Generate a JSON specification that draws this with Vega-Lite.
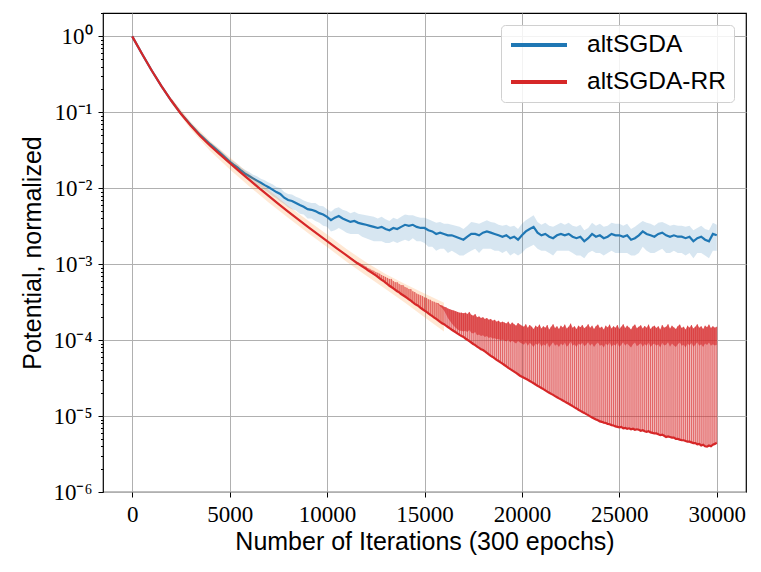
{
  "$schema": "https://vega.github.io/schema/vega-lite/v6.json",
  "width": 643,
  "height": 479,
  "autosize": "none",
  "padding": {"left": 103, "top": 13, "right": 15, "bottom": 80},
  "background": "white",
  "config": {
    "view": {"stroke": "black", "strokeWidth": 1.2},
    "axis": {
      "domain": false,
      "gridColor": "#b0b0b0",
      "gridWidth": 1,
      "tickColor": "black",
      "tickWidth": 1,
      "labelFont": "Liberation Serif",
      "labelFontSize": 23,
      "labelColor": "black",
      "titleFont": "Liberation Sans",
      "titleFontSize": 25,
      "titleFontWeight": "normal",
      "titleColor": "black"
    },
    "legend": {
      "orient": "top-right",
      "offset": 12,
      "symbolType": "stroke",
      "symbolStrokeWidth": 4,
      "symbolSize": 3136,
      "labelFont": "Liberation Sans",
      "labelFontSize": 24.5,
      "labelColor": "black",
      "labelOffset": 18,
      "fillColor": "rgba(255,255,255,0.85)",
      "strokeColor": "#d0d0d0",
      "cornerRadius": 4,
      "padding": 8,
      "rowPadding": 12,
      "clipHeight": 24
    }
  },
  "datasets": {
    "blue": [
      {"it": 0, "m": 1.0, "l": 0.99, "u": 1.01},
      {"it": 500, "m": 0.589, "l": 0.583, "u": 0.595},
      {"it": 1000, "m": 0.355, "l": 0.35, "u": 0.36},
      {"it": 1500, "m": 0.221, "l": 0.217, "u": 0.225},
      {"it": 2000, "m": 0.143, "l": 0.139, "u": 0.147},
      {"it": 2500, "m": 0.0965, "l": 0.093, "u": 0.1},
      {"it": 3000, "m": 0.0685, "l": 0.0655, "u": 0.0715},
      {"it": 3500, "m": 0.05, "l": 0.047, "u": 0.053},
      {"it": 4000, "m": 0.038, "l": 0.0355, "u": 0.0405},
      {"it": 4500, "m": 0.0295, "l": 0.027, "u": 0.032},
      {"it": 5000, "m": 0.0225, "l": 0.0205, "u": 0.0245},
      {"it": 5200, "m": 0.0205, "l": 0.0185, "u": 0.0226},
      {"it": 5400, "m": 0.0188, "l": 0.0167, "u": 0.0209},
      {"it": 5600, "m": 0.017, "l": 0.0153, "u": 0.0187},
      {"it": 5800, "m": 0.0155, "l": 0.0136, "u": 0.0174},
      {"it": 6000, "m": 0.0145, "l": 0.0126, "u": 0.0164},
      {"it": 6200, "m": 0.0135, "l": 0.0119, "u": 0.0151},
      {"it": 6400, "m": 0.0126, "l": 0.0108, "u": 0.0144},
      {"it": 6600, "m": 0.0118, "l": 0.0103, "u": 0.0133},
      {"it": 6800, "m": 0.011, "l": 0.0094, "u": 0.0127},
      {"it": 7000, "m": 0.0103, "l": 0.0087, "u": 0.0119},
      {"it": 7200, "m": 0.0096, "l": 0.0079, "u": 0.0113},
      {"it": 7400, "m": 0.0089, "l": 0.0074, "u": 0.0104},
      {"it": 7600, "m": 0.0084, "l": 0.0067, "u": 0.0101},
      {"it": 7800, "m": 0.0075, "l": 0.0062, "u": 0.0089},
      {"it": 8000, "m": 0.007, "l": 0.0056, "u": 0.0084},
      {"it": 8200, "m": 0.0068, "l": 0.0053, "u": 0.0083},
      {"it": 8400, "m": 0.0064, "l": 0.0051, "u": 0.0077},
      {"it": 8600, "m": 0.006, "l": 0.0046, "u": 0.0074},
      {"it": 8800, "m": 0.0057, "l": 0.0045, "u": 0.0069},
      {"it": 9000, "m": 0.0053, "l": 0.004, "u": 0.0066},
      {"it": 9200, "m": 0.0052, "l": 0.004, "u": 0.0064},
      {"it": 9400, "m": 0.005, "l": 0.0037, "u": 0.0064},
      {"it": 9600, "m": 0.0047, "l": 0.0035, "u": 0.0059},
      {"it": 9800, "m": 0.0045, "l": 0.0032, "u": 0.0058},
      {"it": 10000, "m": 0.0042, "l": 0.0031, "u": 0.0053},
      {"it": 10200, "m": 0.0038, "l": 0.0027, "u": 0.0049},
      {"it": 10400, "m": 0.0041, "l": 0.0028, "u": 0.0054},
      {"it": 10600, "m": 0.0043, "l": 0.003, "u": 0.0056},
      {"it": 10800, "m": 0.004, "l": 0.0028, "u": 0.0052},
      {"it": 11000, "m": 0.0038, "l": 0.0026, "u": 0.005},
      {"it": 11200, "m": 0.0036, "l": 0.0025, "u": 0.0047},
      {"it": 11400, "m": 0.0037, "l": 0.0025, "u": 0.0049},
      {"it": 11600, "m": 0.0035, "l": 0.0025, "u": 0.0046},
      {"it": 11800, "m": 0.0034, "l": 0.0023, "u": 0.0045},
      {"it": 12000, "m": 0.0033, "l": 0.0022, "u": 0.0044},
      {"it": 12200, "m": 0.0032, "l": 0.0021, "u": 0.0043},
      {"it": 12400, "m": 0.0031, "l": 0.002, "u": 0.0042},
      {"it": 12600, "m": 0.003, "l": 0.002, "u": 0.004},
      {"it": 12800, "m": 0.0031, "l": 0.002, "u": 0.0042},
      {"it": 13000, "m": 0.0029, "l": 0.0019, "u": 0.0039},
      {"it": 13200, "m": 0.0028, "l": 0.0019, "u": 0.0037},
      {"it": 13400, "m": 0.003, "l": 0.002, "u": 0.0041},
      {"it": 13600, "m": 0.0029, "l": 0.0019, "u": 0.0039},
      {"it": 13800, "m": 0.0031, "l": 0.002, "u": 0.0042},
      {"it": 14000, "m": 0.0033, "l": 0.0021, "u": 0.0045},
      {"it": 14200, "m": 0.0032, "l": 0.002, "u": 0.0044},
      {"it": 14400, "m": 0.0033, "l": 0.0022, "u": 0.0044},
      {"it": 14600, "m": 0.0031, "l": 0.002, "u": 0.0042},
      {"it": 14800, "m": 0.003, "l": 0.002, "u": 0.0041},
      {"it": 15000, "m": 0.003, "l": 0.0019, "u": 0.0041},
      {"it": 15200, "m": 0.0028, "l": 0.0017, "u": 0.0039},
      {"it": 15400, "m": 0.0027, "l": 0.0017, "u": 0.0037},
      {"it": 15600, "m": 0.0025, "l": 0.0015, "u": 0.0035},
      {"it": 15800, "m": 0.0026, "l": 0.0016, "u": 0.0036},
      {"it": 16000, "m": 0.0025, "l": 0.0016, "u": 0.0034},
      {"it": 16200, "m": 0.0024, "l": 0.0014, "u": 0.0034},
      {"it": 16400, "m": 0.0024, "l": 0.0015, "u": 0.0033},
      {"it": 16600, "m": 0.0023, "l": 0.0014, "u": 0.0032},
      {"it": 16800, "m": 0.0022, "l": 0.0013, "u": 0.0031},
      {"it": 17000, "m": 0.0021, "l": 0.0013, "u": 0.0029},
      {"it": 17200, "m": 0.0023, "l": 0.0014, "u": 0.0032},
      {"it": 17400, "m": 0.0025, "l": 0.0015, "u": 0.0036},
      {"it": 17600, "m": 0.0025, "l": 0.0016, "u": 0.0035},
      {"it": 17800, "m": 0.0024, "l": 0.0014, "u": 0.0034},
      {"it": 18000, "m": 0.0026, "l": 0.0016, "u": 0.0036},
      {"it": 18200, "m": 0.0027, "l": 0.0016, "u": 0.0038},
      {"it": 18400, "m": 0.0026, "l": 0.0016, "u": 0.0036},
      {"it": 18600, "m": 0.0025, "l": 0.0015, "u": 0.0035},
      {"it": 18800, "m": 0.0024, "l": 0.0015, "u": 0.0033},
      {"it": 19000, "m": 0.0023, "l": 0.0014, "u": 0.0032},
      {"it": 19200, "m": 0.0024, "l": 0.0015, "u": 0.0033},
      {"it": 19400, "m": 0.0022, "l": 0.0013, "u": 0.0031},
      {"it": 19600, "m": 0.0023, "l": 0.0014, "u": 0.0032},
      {"it": 19800, "m": 0.0021, "l": 0.0013, "u": 0.0029},
      {"it": 20000, "m": 0.0024, "l": 0.0014, "u": 0.0034},
      {"it": 20200, "m": 0.0027, "l": 0.0016, "u": 0.0038},
      {"it": 20400, "m": 0.0029, "l": 0.0017, "u": 0.0041},
      {"it": 20600, "m": 0.0031, "l": 0.0018, "u": 0.0044},
      {"it": 20800, "m": 0.0026, "l": 0.0016, "u": 0.0036},
      {"it": 21000, "m": 0.0024, "l": 0.0015, "u": 0.0033},
      {"it": 21200, "m": 0.0025, "l": 0.0015, "u": 0.0035},
      {"it": 21400, "m": 0.0023, "l": 0.0014, "u": 0.0032},
      {"it": 21600, "m": 0.0022, "l": 0.0013, "u": 0.0031},
      {"it": 21800, "m": 0.0024, "l": 0.0015, "u": 0.0033},
      {"it": 22000, "m": 0.0025, "l": 0.0015, "u": 0.0035},
      {"it": 22200, "m": 0.0024, "l": 0.0015, "u": 0.0033},
      {"it": 22400, "m": 0.0025, "l": 0.0015, "u": 0.0035},
      {"it": 22600, "m": 0.0023, "l": 0.0014, "u": 0.0032},
      {"it": 22800, "m": 0.0022, "l": 0.0013, "u": 0.0031},
      {"it": 23000, "m": 0.0023, "l": 0.0013, "u": 0.0033},
      {"it": 23200, "m": 0.002, "l": 0.0012, "u": 0.0028},
      {"it": 23400, "m": 0.0022, "l": 0.0014, "u": 0.003},
      {"it": 23600, "m": 0.0025, "l": 0.0015, "u": 0.0035},
      {"it": 23800, "m": 0.0023, "l": 0.0014, "u": 0.0032},
      {"it": 24000, "m": 0.0024, "l": 0.0014, "u": 0.0034},
      {"it": 24200, "m": 0.0022, "l": 0.0013, "u": 0.0031},
      {"it": 24400, "m": 0.0023, "l": 0.0014, "u": 0.0032},
      {"it": 24600, "m": 0.0025, "l": 0.0015, "u": 0.0035},
      {"it": 24800, "m": 0.0024, "l": 0.0014, "u": 0.0034},
      {"it": 25000, "m": 0.0024, "l": 0.0014, "u": 0.0034},
      {"it": 25200, "m": 0.0023, "l": 0.0014, "u": 0.0032},
      {"it": 25400, "m": 0.0024, "l": 0.0014, "u": 0.0034},
      {"it": 25600, "m": 0.0021, "l": 0.0013, "u": 0.0029},
      {"it": 25800, "m": 0.0022, "l": 0.0013, "u": 0.0031},
      {"it": 26000, "m": 0.0024, "l": 0.0014, "u": 0.0034},
      {"it": 26200, "m": 0.0027, "l": 0.0017, "u": 0.0037},
      {"it": 26400, "m": 0.0025, "l": 0.0015, "u": 0.0035},
      {"it": 26600, "m": 0.0024, "l": 0.0014, "u": 0.0034},
      {"it": 26800, "m": 0.0023, "l": 0.0014, "u": 0.0032},
      {"it": 27000, "m": 0.0025, "l": 0.0015, "u": 0.0035},
      {"it": 27200, "m": 0.0026, "l": 0.0016, "u": 0.0036},
      {"it": 27400, "m": 0.0024, "l": 0.0014, "u": 0.0034},
      {"it": 27600, "m": 0.0023, "l": 0.0014, "u": 0.0032},
      {"it": 27800, "m": 0.0024, "l": 0.0015, "u": 0.0033},
      {"it": 28000, "m": 0.0023, "l": 0.0014, "u": 0.0032},
      {"it": 28200, "m": 0.0023, "l": 0.0014, "u": 0.0032},
      {"it": 28400, "m": 0.0022, "l": 0.0013, "u": 0.0031},
      {"it": 28600, "m": 0.0023, "l": 0.0014, "u": 0.0032},
      {"it": 28800, "m": 0.002, "l": 0.0012, "u": 0.0028},
      {"it": 29000, "m": 0.0022, "l": 0.0014, "u": 0.003},
      {"it": 29200, "m": 0.0023, "l": 0.0014, "u": 0.0032},
      {"it": 29400, "m": 0.0021, "l": 0.0013, "u": 0.0029},
      {"it": 29600, "m": 0.002, "l": 0.0012, "u": 0.0028},
      {"it": 29800, "m": 0.0025, "l": 0.0015, "u": 0.0035},
      {"it": 30000, "m": 0.0024, "l": 0.0015, "u": 0.0033}
    ],
    "band": [
      {"it": 2000, "l": 0.132, "u": 0.156},
      {"it": 3000, "l": 0.06, "u": 0.075},
      {"it": 4000, "l": 0.031, "u": 0.042},
      {"it": 5000, "l": 0.0178, "u": 0.0256},
      {"it": 6000, "l": 0.0106, "u": 0.0155},
      {"it": 7000, "l": 0.0065, "u": 0.0095},
      {"it": 8000, "l": 0.0041, "u": 0.0059},
      {"it": 9000, "l": 0.0026, "u": 0.0038},
      {"it": 10000, "l": 0.00168, "u": 0.00245},
      {"it": 11000, "l": 0.00108, "u": 0.00158},
      {"it": 12000, "l": 0.00071, "u": 0.00106},
      {"it": 13000, "l": 0.00047, "u": 0.00074},
      {"it": 14000, "l": 0.00031, "u": 0.00055},
      {"it": 15000, "l": 0.0002, "u": 0.00041},
      {"it": 16000, "l": 0.00013, "u": 0.00031}
    ],
    "red": [
      {"it": 0, "lo": 1.0, "md": 1.0, "hi": 1.0},
      {"it": 500, "lo": 0.589, "md": 0.589, "hi": 0.589},
      {"it": 1000, "lo": 0.355, "md": 0.355, "hi": 0.355},
      {"it": 1500, "lo": 0.221, "md": 0.221, "hi": 0.221},
      {"it": 2000, "lo": 0.143, "md": 0.143, "hi": 0.143},
      {"it": 2500, "lo": 0.0955, "md": 0.0955, "hi": 0.0955},
      {"it": 3000, "lo": 0.0668, "md": 0.0668, "hi": 0.0668},
      {"it": 3500, "lo": 0.0484, "md": 0.0484, "hi": 0.0484},
      {"it": 4000, "lo": 0.0363, "md": 0.0363, "hi": 0.0363},
      {"it": 4500, "lo": 0.0279, "md": 0.0279, "hi": 0.0279},
      {"it": 5000, "lo": 0.0216, "md": 0.0216, "hi": 0.0216},
      {"it": 5500, "lo": 0.0167, "md": 0.0167, "hi": 0.0167},
      {"it": 6000, "lo": 0.013, "md": 0.013, "hi": 0.013},
      {"it": 6500, "lo": 0.0101, "md": 0.0101, "hi": 0.0101},
      {"it": 7000, "lo": 0.00793, "md": 0.00793, "hi": 0.00793},
      {"it": 7500, "lo": 0.00624, "md": 0.00624, "hi": 0.00624},
      {"it": 8000, "lo": 0.00493, "md": 0.00493, "hi": 0.00493},
      {"it": 8500, "lo": 0.00392, "md": 0.00392, "hi": 0.00392},
      {"it": 9000, "lo": 0.00313, "md": 0.00313, "hi": 0.00313},
      {"it": 9500, "lo": 0.00251, "md": 0.00251, "hi": 0.00251},
      {"it": 10000, "lo": 0.00201, "md": 0.00201, "hi": 0.00201},
      {"it": 10500, "lo": 0.00162, "md": 0.00162, "hi": 0.00162},
      {"it": 11000, "lo": 0.00131, "md": 0.00131, "hi": 0.00133},
      {"it": 11500, "lo": 0.00105, "md": 0.00105, "hi": 0.00109},
      {"it": 12000, "lo": 8.7e-4, "md": 9.3e-4, "hi": 9.3e-4},
      {"it": 12100, "lo": 8.3e-4, "md": 8.9e-4, "hi": 8.9e-4},
      {"it": 12200, "lo": 8.0e-4, "md": 8.7e-4, "hi": 8.7e-4},
      {"it": 12300, "lo": 7.7e-4, "md": 8.4e-4, "hi": 8.4e-4},
      {"it": 12400, "lo": 7.4e-4, "md": 8.2e-4, "hi": 8.2e-4},
      {"it": 12500, "lo": 7.1e-4, "md": 7.9e-4, "hi": 7.9e-4},
      {"it": 12600, "lo": 6.8e-4, "md": 7.7e-4, "hi": 7.7e-4},
      {"it": 12700, "lo": 6.5e-4, "md": 7.5e-4, "hi": 7.5e-4},
      {"it": 12800, "lo": 6.2e-4, "md": 7.2e-4, "hi": 7.2e-4},
      {"it": 12900, "lo": 6.0e-4, "md": 7.0e-4, "hi": 7.0e-4},
      {"it": 13000, "lo": 5.7e-4, "md": 6.8e-4, "hi": 6.8e-4},
      {"it": 13100, "lo": 5.45e-4, "md": 6.6e-4, "hi": 6.6e-4},
      {"it": 13200, "lo": 5.2e-4, "md": 6.4e-4, "hi": 6.4e-4},
      {"it": 13300, "lo": 5.0e-4, "md": 6.4e-4, "hi": 6.4e-4},
      {"it": 13400, "lo": 4.8e-4, "md": 6.0e-4, "hi": 6.0e-4},
      {"it": 13500, "lo": 4.6e-4, "md": 5.8e-4, "hi": 5.8e-4},
      {"it": 13600, "lo": 4.4e-4, "md": 5.8e-4, "hi": 5.8e-4},
      {"it": 13700, "lo": 4.25e-4, "md": 5.5e-4, "hi": 5.5e-4},
      {"it": 13800, "lo": 4.05e-4, "md": 5.3e-4, "hi": 5.3e-4},
      {"it": 13900, "lo": 3.9e-4, "md": 5.3e-4, "hi": 5.3e-4},
      {"it": 14000, "lo": 3.75e-4, "md": 5.0e-4, "hi": 5.0e-4},
      {"it": 14100, "lo": 3.6e-4, "md": 4.9e-4, "hi": 4.9e-4},
      {"it": 14200, "lo": 3.45e-4, "md": 4.7e-4, "hi": 4.7e-4},
      {"it": 14300, "lo": 3.3e-4, "md": 4.7e-4, "hi": 4.7e-4},
      {"it": 14400, "lo": 3.15e-4, "md": 4.4e-4, "hi": 4.4e-4},
      {"it": 14500, "lo": 3.0e-4, "md": 4.3e-4, "hi": 4.3e-4},
      {"it": 14600, "lo": 2.9e-4, "md": 4.1e-4, "hi": 4.1e-4},
      {"it": 14700, "lo": 2.8e-4, "md": 4.0e-4, "hi": 4.0e-4},
      {"it": 14800, "lo": 2.65e-4, "md": 3.9e-4, "hi": 3.9e-4},
      {"it": 14900, "lo": 2.55e-4, "md": 3.8e-4, "hi": 3.8e-4},
      {"it": 15000, "lo": 2.45e-4, "md": 3.65e-4, "hi": 3.65e-4},
      {"it": 15100, "lo": 2.35e-4, "md": 3.6e-4, "hi": 3.6e-4},
      {"it": 15200, "lo": 2.25e-4, "md": 3.45e-4, "hi": 3.45e-4},
      {"it": 15300, "lo": 2.15e-4, "md": 3.4e-4, "hi": 3.4e-4},
      {"it": 15400, "lo": 2.07e-4, "md": 3.25e-4, "hi": 3.25e-4},
      {"it": 15500, "lo": 1.98e-4, "md": 3.2e-4, "hi": 3.2e-4},
      {"it": 15600, "lo": 1.9e-4, "md": 3.1e-4, "hi": 3.1e-4},
      {"it": 15700, "lo": 1.82e-4, "md": 3.0e-4, "hi": 3.05e-4},
      {"it": 15800, "lo": 1.74e-4, "md": 2.8e-4, "hi": 2.9e-4},
      {"it": 15900, "lo": 1.67e-4, "md": 2.65e-4, "hi": 2.85e-4},
      {"it": 16000, "lo": 1.62e-4, "md": 2.45e-4, "hi": 2.75e-4},
      {"it": 16100, "lo": 1.55e-4, "md": 2.2e-4, "hi": 2.7e-4},
      {"it": 16200, "lo": 1.49e-4, "md": 1.95e-4, "hi": 2.6e-4},
      {"it": 16300, "lo": 1.43e-4, "md": 1.8e-4, "hi": 2.55e-4},
      {"it": 16400, "lo": 1.37e-4, "md": 1.65e-4, "hi": 2.5e-4},
      {"it": 16500, "lo": 1.32e-4, "md": 1.55e-4, "hi": 2.45e-4},
      {"it": 16600, "lo": 1.27e-4, "md": 1.45e-4, "hi": 2.4e-4},
      {"it": 16700, "lo": 1.22e-4, "md": 1.38e-4, "hi": 2.35e-4},
      {"it": 16800, "lo": 1.17e-4, "md": 1.33e-4, "hi": 2.3e-4},
      {"it": 16900, "lo": 1.13e-4, "md": 1.33e-4, "hi": 2.3e-4},
      {"it": 17000, "lo": 1.1e-4, "md": 1.3e-4, "hi": 2.25e-4},
      {"it": 17100, "lo": 1.05e-4, "md": 1.33e-4, "hi": 2.3e-4},
      {"it": 17200, "lo": 1.01e-4, "md": 1.28e-4, "hi": 2.2e-4},
      {"it": 17300, "lo": 9.7e-5, "md": 1.36e-4, "hi": 2.35e-4},
      {"it": 17400, "lo": 9.3e-5, "md": 1.25e-4, "hi": 2.15e-4},
      {"it": 17500, "lo": 8.9e-5, "md": 1.22e-4, "hi": 2.1e-4},
      {"it": 17600, "lo": 8.6e-5, "md": 1.28e-4, "hi": 2.2e-4},
      {"it": 17700, "lo": 8.2e-5, "md": 1.16e-4, "hi": 2.0e-4},
      {"it": 17800, "lo": 7.9e-5, "md": 1.19e-4, "hi": 2.05e-4},
      {"it": 17900, "lo": 7.6e-5, "md": 1.13e-4, "hi": 1.95e-4},
      {"it": 18000, "lo": 7.4e-5, "md": 1.16e-4, "hi": 2.0e-4},
      {"it": 18100, "lo": 7.1e-5, "md": 1.1e-4, "hi": 1.9e-4},
      {"it": 18200, "lo": 6.8e-5, "md": 1.13e-4, "hi": 1.95e-4},
      {"it": 18300, "lo": 6.5e-5, "md": 1.07e-4, "hi": 1.85e-4},
      {"it": 18400, "lo": 6.2e-5, "md": 1.1e-4, "hi": 1.9e-4},
      {"it": 18500, "lo": 6.0e-5, "md": 1.04e-4, "hi": 1.8e-4},
      {"it": 18600, "lo": 5.75e-5, "md": 1.07e-4, "hi": 1.85e-4},
      {"it": 18700, "lo": 5.5e-5, "md": 1.02e-4, "hi": 1.75e-4},
      {"it": 18800, "lo": 5.3e-5, "md": 1.04e-4, "hi": 1.8e-4},
      {"it": 18900, "lo": 5.1e-5, "md": 9.9e-5, "hi": 1.7e-4},
      {"it": 19000, "lo": 4.9e-5, "md": 1.02e-4, "hi": 1.75e-4},
      {"it": 19100, "lo": 4.7e-5, "md": 9.9e-5, "hi": 1.7e-4},
      {"it": 19200, "lo": 4.5e-5, "md": 9.6e-5, "hi": 1.65e-4},
      {"it": 19300, "lo": 4.3e-5, "md": 1.02e-4, "hi": 1.75e-4},
      {"it": 19400, "lo": 4.15e-5, "md": 9.3e-5, "hi": 1.6e-4},
      {"it": 19500, "lo": 4.0e-5, "md": 9.9e-5, "hi": 1.7e-4},
      {"it": 19600, "lo": 3.85e-5, "md": 9.4e-5, "hi": 1.62e-4},
      {"it": 19700, "lo": 3.7e-5, "md": 9.0e-5, "hi": 1.55e-4},
      {"it": 19800, "lo": 3.55e-5, "md": 9.7e-5, "hi": 1.68e-4},
      {"it": 19900, "lo": 3.4e-5, "md": 9.3e-5, "hi": 1.6e-4},
      {"it": 20000, "lo": 3.3e-5, "md": 9.0e-5, "hi": 1.55e-4},
      {"it": 20100, "lo": 3.2e-5, "md": 8.7e-5, "hi": 1.5e-4},
      {"it": 20200, "lo": 3.1e-5, "md": 9.4e-5, "hi": 1.62e-4},
      {"it": 20300, "lo": 3.0e-5, "md": 8.4e-5, "hi": 1.45e-4},
      {"it": 20400, "lo": 2.9e-5, "md": 9.2e-5, "hi": 1.58e-4},
      {"it": 20500, "lo": 2.8e-5, "md": 8.7e-5, "hi": 1.5e-4},
      {"it": 20600, "lo": 2.7e-5, "md": 8.1e-5, "hi": 1.4e-4},
      {"it": 20700, "lo": 2.6e-5, "md": 9.0e-5, "hi": 1.55e-4},
      {"it": 20800, "lo": 2.5e-5, "md": 8.6e-5, "hi": 1.48e-4},
      {"it": 20900, "lo": 2.42e-5, "md": 9.3e-5, "hi": 1.6e-4},
      {"it": 21000, "lo": 2.34e-5, "md": 8.2e-5, "hi": 1.42e-4},
      {"it": 21100, "lo": 2.26e-5, "md": 8.8e-5, "hi": 1.52e-4},
      {"it": 21200, "lo": 2.18e-5, "md": 8.4e-5, "hi": 1.45e-4},
      {"it": 21300, "lo": 2.1e-5, "md": 9.2e-5, "hi": 1.58e-4},
      {"it": 21400, "lo": 2.03e-5, "md": 8.0e-5, "hi": 1.38e-4},
      {"it": 21500, "lo": 1.96e-5, "md": 8.7e-5, "hi": 1.5e-4},
      {"it": 21600, "lo": 1.9e-5, "md": 9.4e-5, "hi": 1.62e-4},
      {"it": 21700, "lo": 1.83e-5, "md": 8.4e-5, "hi": 1.44e-4},
      {"it": 21800, "lo": 1.77e-5, "md": 8.8e-5, "hi": 1.52e-4},
      {"it": 21900, "lo": 1.71e-5, "md": 8.1e-5, "hi": 1.4e-4},
      {"it": 22000, "lo": 1.66e-5, "md": 9.0e-5, "hi": 1.55e-4},
      {"it": 22100, "lo": 1.6e-5, "md": 8.5e-5, "hi": 1.47e-4},
      {"it": 22200, "lo": 1.55e-5, "md": 9.3e-5, "hi": 1.6e-4},
      {"it": 22300, "lo": 1.5e-5, "md": 8.2e-5, "hi": 1.42e-4},
      {"it": 22400, "lo": 1.45e-5, "md": 8.7e-5, "hi": 1.5e-4},
      {"it": 22500, "lo": 1.4e-5, "md": 9.6e-5, "hi": 1.65e-4},
      {"it": 22600, "lo": 1.35e-5, "md": 8.4e-5, "hi": 1.45e-4},
      {"it": 22700, "lo": 1.3e-5, "md": 8.8e-5, "hi": 1.52e-4},
      {"it": 22800, "lo": 1.26e-5, "md": 8.1e-5, "hi": 1.4e-4},
      {"it": 22900, "lo": 1.21e-5, "md": 9.0e-5, "hi": 1.55e-4},
      {"it": 23000, "lo": 1.17e-5, "md": 8.6e-5, "hi": 1.48e-4},
      {"it": 23100, "lo": 1.13e-5, "md": 9.2e-5, "hi": 1.58e-4},
      {"it": 23200, "lo": 1.1e-5, "md": 8.3e-5, "hi": 1.43e-4},
      {"it": 23300, "lo": 1.06e-5, "md": 8.7e-5, "hi": 1.5e-4},
      {"it": 23400, "lo": 1.03e-5, "md": 9.4e-5, "hi": 1.62e-4},
      {"it": 23500, "lo": 9.9e-6, "md": 8.4e-5, "hi": 1.45e-4},
      {"it": 23600, "lo": 9.6e-6, "md": 9.0e-5, "hi": 1.55e-4},
      {"it": 23700, "lo": 9.3e-6, "md": 8.1e-5, "hi": 1.4e-4},
      {"it": 23800, "lo": 9.0e-6, "md": 8.8e-5, "hi": 1.52e-4},
      {"it": 23900, "lo": 8.8e-6, "md": 9.3e-5, "hi": 1.6e-4},
      {"it": 24000, "lo": 8.5e-6, "md": 8.4e-5, "hi": 1.44e-4},
      {"it": 24100, "lo": 8.4e-6, "md": 8.7e-5, "hi": 1.5e-4},
      {"it": 24200, "lo": 8.2e-6, "md": 8.0e-5, "hi": 1.38e-4},
      {"it": 24300, "lo": 8.1e-6, "md": 9.0e-5, "hi": 1.55e-4},
      {"it": 24400, "lo": 7.9e-6, "md": 8.5e-5, "hi": 1.47e-4},
      {"it": 24500, "lo": 7.8e-6, "md": 9.3e-5, "hi": 1.6e-4},
      {"it": 24600, "lo": 7.6e-6, "md": 8.2e-5, "hi": 1.42e-4},
      {"it": 24700, "lo": 7.5e-6, "md": 8.8e-5, "hi": 1.52e-4},
      {"it": 24800, "lo": 7.3e-6, "md": 8.4e-5, "hi": 1.45e-4},
      {"it": 24900, "lo": 7.2e-6, "md": 9.2e-5, "hi": 1.58e-4},
      {"it": 25000, "lo": 7.1e-6, "md": 8.1e-5, "hi": 1.4e-4},
      {"it": 25100, "lo": 7.2e-6, "md": 8.7e-5, "hi": 1.5e-4},
      {"it": 25200, "lo": 6.9e-6, "md": 9.4e-5, "hi": 1.62e-4},
      {"it": 25300, "lo": 7.0e-6, "md": 8.4e-5, "hi": 1.44e-4},
      {"it": 25400, "lo": 6.8e-6, "md": 9.0e-5, "hi": 1.55e-4},
      {"it": 25500, "lo": 6.9e-6, "md": 8.5e-5, "hi": 1.47e-4},
      {"it": 25600, "lo": 6.7e-6, "md": 8.0e-5, "hi": 1.38e-4},
      {"it": 25700, "lo": 6.8e-6, "md": 8.8e-5, "hi": 1.52e-4},
      {"it": 25800, "lo": 6.6e-6, "md": 9.3e-5, "hi": 1.6e-4},
      {"it": 25900, "lo": 6.7e-6, "md": 8.3e-5, "hi": 1.43e-4},
      {"it": 26000, "lo": 6.6e-6, "md": 8.7e-5, "hi": 1.5e-4},
      {"it": 26100, "lo": 6.4e-6, "md": 9.1e-5, "hi": 1.57e-4},
      {"it": 26200, "lo": 6.5e-6, "md": 8.2e-5, "hi": 1.42e-4},
      {"it": 26300, "lo": 6.3e-6, "md": 8.9e-5, "hi": 1.53e-4},
      {"it": 26400, "lo": 6.2e-6, "md": 8.4e-5, "hi": 1.45e-4},
      {"it": 26500, "lo": 6.3e-6, "md": 9.3e-5, "hi": 1.6e-4},
      {"it": 26600, "lo": 6.1e-6, "md": 8.1e-5, "hi": 1.4e-4},
      {"it": 26700, "lo": 6.0e-6, "md": 8.7e-5, "hi": 1.5e-4},
      {"it": 26800, "lo": 5.9e-6, "md": 9.0e-5, "hi": 1.55e-4},
      {"it": 26900, "lo": 5.9e-6, "md": 8.4e-5, "hi": 1.44e-4},
      {"it": 27000, "lo": 5.75e-6, "md": 8.8e-5, "hi": 1.52e-4},
      {"it": 27100, "lo": 5.6e-6, "md": 8.0e-5, "hi": 1.38e-4},
      {"it": 27200, "lo": 5.7e-6, "md": 9.2e-5, "hi": 1.58e-4},
      {"it": 27300, "lo": 5.5e-6, "md": 8.5e-5, "hi": 1.46e-4},
      {"it": 27400, "lo": 5.3e-6, "md": 8.7e-5, "hi": 1.5e-4},
      {"it": 27500, "lo": 5.4e-6, "md": 9.4e-5, "hi": 1.62e-4},
      {"it": 27600, "lo": 5.3e-6, "md": 8.2e-5, "hi": 1.42e-4},
      {"it": 27700, "lo": 5.2e-6, "md": 9.0e-5, "hi": 1.55e-4},
      {"it": 27800, "lo": 5.2e-6, "md": 8.5e-5, "hi": 1.47e-4},
      {"it": 27900, "lo": 5.0e-6, "md": 8.1e-5, "hi": 1.4e-4},
      {"it": 28000, "lo": 5.0e-6, "md": 8.8e-5, "hi": 1.52e-4},
      {"it": 28100, "lo": 4.9e-6, "md": 9.3e-5, "hi": 1.6e-4},
      {"it": 28200, "lo": 4.8e-6, "md": 8.4e-5, "hi": 1.44e-4},
      {"it": 28300, "lo": 4.8e-6, "md": 8.7e-5, "hi": 1.5e-4},
      {"it": 28400, "lo": 4.7e-6, "md": 8.0e-5, "hi": 1.38e-4},
      {"it": 28500, "lo": 4.6e-6, "md": 9.0e-5, "hi": 1.55e-4},
      {"it": 28600, "lo": 4.6e-6, "md": 8.5e-5, "hi": 1.46e-4},
      {"it": 28700, "lo": 4.5e-6, "md": 9.2e-5, "hi": 1.58e-4},
      {"it": 28800, "lo": 4.4e-6, "md": 8.2e-5, "hi": 1.42e-4},
      {"it": 28900, "lo": 4.4e-6, "md": 8.7e-5, "hi": 1.5e-4},
      {"it": 29000, "lo": 4.25e-6, "md": 9.4e-5, "hi": 1.62e-4},
      {"it": 29100, "lo": 4.3e-6, "md": 8.4e-5, "hi": 1.45e-4},
      {"it": 29200, "lo": 4.1e-6, "md": 8.8e-5, "hi": 1.52e-4},
      {"it": 29300, "lo": 4.2e-6, "md": 8.1e-5, "hi": 1.4e-4},
      {"it": 29400, "lo": 4.0e-6, "md": 9.0e-5, "hi": 1.55e-4},
      {"it": 29500, "lo": 3.95e-6, "md": 8.6e-5, "hi": 1.48e-4},
      {"it": 29600, "lo": 4.1e-6, "md": 9.3e-5, "hi": 1.6e-4},
      {"it": 29700, "lo": 4.0e-6, "md": 8.4e-5, "hi": 1.44e-4},
      {"it": 29800, "lo": 4.2e-6, "md": 8.8e-5, "hi": 1.52e-4},
      {"it": 29900, "lo": 4.3e-6, "md": 8.5e-5, "hi": 1.46e-4},
      {"it": 30000, "lo": 4.45e-6, "md": 8.7e-5, "hi": 1.5e-4}
    ]
  },
  "encoding": {
    "x": {
      "field": "it",
      "type": "quantitative",
      "title": "Number of Iterations (300 epochs)",
      "scale": {"domain": [-1500, 31500], "nice": false, "zero": false},
      "axis": {
        "values": [0, 5000, 10000, 15000, 20000, 25000, 30000],
        "format": "d",
        "tickSize": 5,
        "labelPadding": 6,
        "titlePadding": 3
      }
    }
  },
  "layer": [
    {
      "data": {"name": "blue"},
      "mark": {"type": "area", "color": "#1f77b4", "opacity": 0.18},
      "encoding": {
        "y": {
          "field": "l",
          "type": "quantitative",
          "title": "Potential, normalized",
          "scale": {"type": "log", "domain": [1e-6, 2.03], "nice": false},
          "axis": {
            "title": "Potential, normalized",
            "values": [1e-6, 2e-6, 3e-6, 4e-6, 5e-6, 6e-6, 7e-6, 8e-6, 9e-6, 1e-5, 2e-5, 3e-5, 4e-5, 5e-5, 6e-5, 7e-5, 8e-5, 9e-5, 1e-4, 2e-4, 3e-4, 4e-4, 5e-4, 6e-4, 7e-4, 8e-4, 9e-4, 1e-3, 2e-3, 3e-3, 4e-3, 5e-3, 6e-3, 7e-3, 8e-3, 9e-3, 0.01, 0.02, 0.03, 0.04, 0.05, 0.06, 0.07, 0.08, 0.09, 0.1, 0.2, 0.3, 0.4, 0.5, 0.6, 0.7, 0.8, 0.9, 1, 2],
            "labelExpr": "abs(log(datum.value)/LN10 - round(log(datum.value)/LN10)) < 0.01 ? ['10⁰','10⁻¹','10⁻²','10⁻³','10⁻⁴','10⁻⁵','10⁻⁶'][-round(log(datum.value)/LN10)] : ''",
            "tickSize": {"condition": {"test": "abs(log(datum.value)/LN10 - round(log(datum.value)/LN10)) < 0.01", "value": 5}, "value": 2.5},
            "gridOpacity": {"condition": {"test": "abs(log(datum.value)/LN10 - round(log(datum.value)/LN10)) < 0.01", "value": 1}, "value": 0},
            "labelPadding": 6,
            "titlePadding": 7
          }
        },
        "y2": {"field": "u"}
      }
    },
    {
      "data": {"name": "blue"},
      "mark": {"type": "line", "strokeWidth": 2.2},
      "encoding": {
        "y": {"field": "m", "type": "quantitative", "title": "Potential, normalized"},
        "color": {
          "datum": "altSGDA",
          "type": "nominal",
          "scale": {"domain": ["altSGDA", "altSGDA-RR"], "range": ["#1f77b4", "#d62728"]},
          "legend": {"title": null}
        }
      }
    },
    {
      "data": {"name": "band"},
      "mark": {"type": "area", "color": "#ff7f0e", "opacity": 0.18},
      "encoding": {
        "y": {"field": "l", "type": "quantitative", "title": "Potential, normalized"},
        "y2": {"field": "u"}
      }
    },
    {
      "data": {"name": "red"},
      "mark": {"type": "area", "color": "#d62728", "opacity": 0.3},
      "encoding": {
        "y": {"field": "lo", "type": "quantitative", "title": "Potential, normalized"},
        "y2": {"field": "hi"}
      }
    },
    {
      "data": {"name": "red"},
      "mark": {"type": "area", "color": "#d62728", "opacity": 0.6},
      "encoding": {
        "y": {"field": "md", "type": "quantitative", "title": "Potential, normalized"},
        "y2": {"field": "hi"}
      }
    },
    {
      "data": {"name": "red"},
      "transform": [{"filter": "datum.it >= 12000"}],
      "mark": {"type": "rule", "color": "#d62728", "strokeWidth": 0.7, "opacity": 0.85},
      "encoding": {
        "y": {"field": "lo", "type": "quantitative", "title": "Potential, normalized"},
        "y2": {"field": "hi"}
      }
    },
    {
      "data": {"name": "red"},
      "mark": {"type": "line", "strokeWidth": 2.2},
      "encoding": {
        "y": {"field": "lo", "type": "quantitative", "title": "Potential, normalized"},
        "color": {"datum": "altSGDA-RR", "type": "nominal"}
      }
    }
  ]
}
